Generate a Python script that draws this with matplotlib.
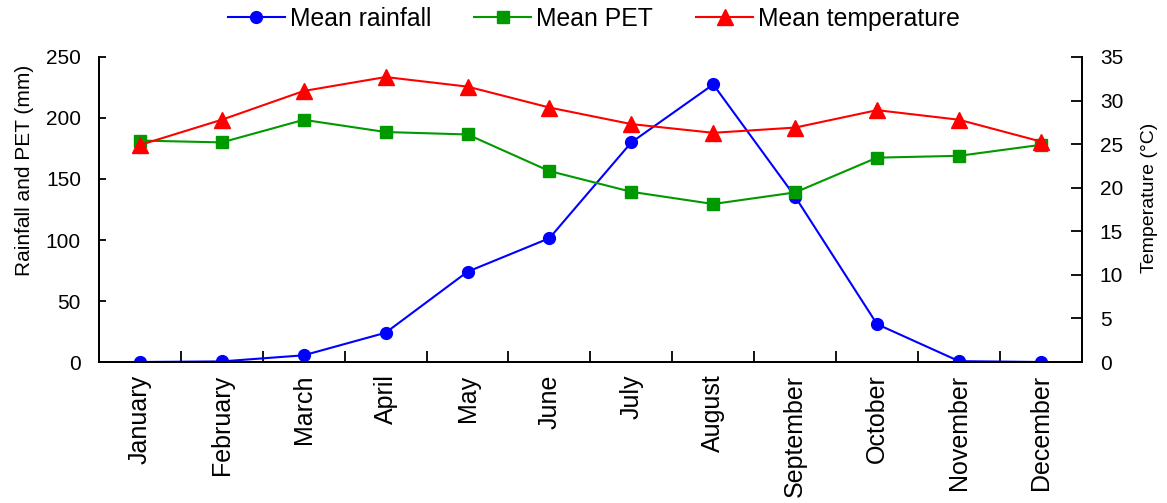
import matplotlib.pyplot as plt

plt.rcParams['font.family'] = ['Liberation Sans', 'DejaVu Sans']

meses = ['January', 'February', 'March', 'April', 'May', 'June', 'July',
         'August', 'September', 'October', 'November', 'December']
lluvia = [0, 0.5, 5.5, 24, 74, 101.5, 180, 227.5, 135.5, 31, 0.7, 0]
pet = [181.5, 180, 198.5, 188.5, 186.5, 156.5, 139.5, 129.5, 139, 167.5, 169, 178]
temperatura = [24.9, 27.8, 31.1, 32.7, 31.6, 29.2, 27.3, 26.3, 26.9, 28.9, 27.8, 25.3]

x = list(range(len(meses)))

fig = plt.figure(figsize=(11.67, 5.03), dpi=100)
ax = fig.add_axes([0.0848, 0.2803, 0.8422, 0.6064])
ax2 = ax.twinx()

l1, = ax.plot(x, lluvia, color='#0000FF', marker='o', markersize=8.5, linewidth=1.5,
              label='Mean rainfall')
l2, = ax.plot(x, pet, color='#009900', marker='s', markersize=8.5, linewidth=1.5,
              label='Mean PET')
l3, = ax2.plot(x, temperatura, color='#FF0000', marker='^', markersize=11, linewidth=1.5,
               label='Mean temperature')

ax.set_xlim(-0.5, len(meses) - 0.5)
ax.set_ylim(0, 250)
ax2.set_ylim(0, 35)
ax.set_yticks(range(0, 251, 50))
ax2.set_yticks(range(0, 36, 5))

# etiquetas de meses centradas, marcas de graduacion entre categorias
ax.set_xticks(x)
ax.set_xticklabels(meses, rotation=90, fontsize=18)
ax.set_xticks([i + 0.5 for i in x[:-1]], minor=True)
ax.tick_params(axis='x', which='major', length=0, pad=9)
ax.tick_params(axis='x', which='minor', direction='in', length=8, width=1.3)
ax.tick_params(axis='y', direction='in', length=5, width=1.3, labelsize=15, pad=13)
ax2.tick_params(axis='y', direction='in', length=8, width=1.3, labelsize=15, pad=13)

for a in (ax, ax2):
    a.spines['top'].set_visible(False)
    for s in ('left', 'right', 'bottom'):
        a.spines[s].set_linewidth(1.3)

ax.set_ylabel('Rainfall and PET (mm)', fontsize=15)
ax2.set_ylabel('Temperature (°C)', fontsize=14)
ax.yaxis.set_label_coords(-0.066, 0.628)
ax2.yaxis.set_label_coords(1.060, 0.539)

fig.legend(handles=[l1, l2, l3], loc='center', bbox_to_anchor=(0.509, 0.963),
           ncol=3, frameon=False, fontsize=17.8, handlelength=2.3, columnspacing=1.75,
           handletextpad=0.2, borderpad=0)

plt.savefig('out.png')
